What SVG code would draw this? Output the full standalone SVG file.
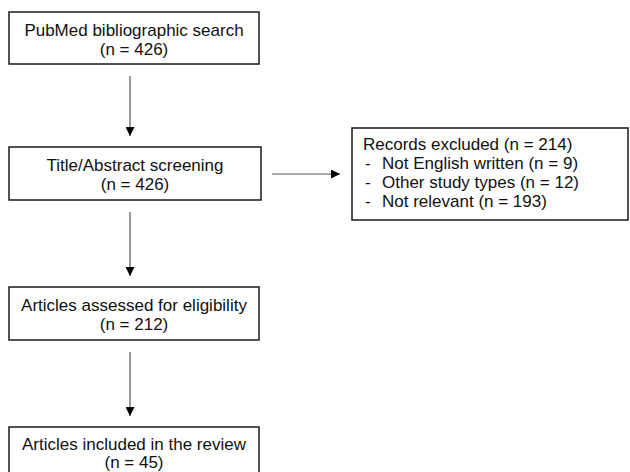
<svg xmlns="http://www.w3.org/2000/svg" width="630" height="472" viewBox="0 0 630 472">
<style>
.box{fill:#fff;stroke:#1a1a1a;stroke-width:1.5}
.t{font-family:"Liberation Sans",Arial,sans-serif;font-size:17px;fill:#111}
.c{text-anchor:middle}
.ln{stroke:#555;stroke-width:1.2;fill:none}
</style>
<defs>
<marker id="ah" viewBox="0 0 10 10" refX="10" refY="5" markerWidth="9" markerHeight="9" markerUnits="userSpaceOnUse" orient="auto">
<path d="M0,0 L10,5 L0,10 Z" fill="#000"/>
</marker>
</defs>
<rect width="630" height="472" fill="#fff"/>
<g id="connectors">
<line class="ln" x1="130" y1="76" x2="130" y2="136" marker-end="url(#ah)"/>
<line class="ln" x1="130" y1="212" x2="130" y2="276" marker-end="url(#ah)"/>
<line class="ln" x1="130" y1="352" x2="130" y2="416" marker-end="url(#ah)"/>
<line class="ln" x1="272" y1="174" x2="340" y2="174" marker-end="url(#ah)"/>
</g>
<g id="search">
<rect class="box" x="9" y="12" width="250" height="52"/>
<text class="t c" x="134" y="36">PubMed bibliographic search</text>
<text class="t c" x="134" y="55">(n = 426)</text>
</g>
<g id="screening">
<rect class="box" x="9" y="147" width="252" height="53"/>
<text class="t c" x="135" y="171">Title/Abstract screening</text>
<text class="t c" x="135" y="190">(n = 426)</text>
</g>
<g id="excluded">
<rect class="box" x="352" y="128" width="276" height="92"/>
<text class="t" x="363" y="150">Records excluded (n = 214)</text>
<text class="t" x="365" y="169">-</text>
<text class="t" x="382" y="169">Not English written (n = 9)</text>
<text class="t" x="365" y="188">-</text>
<text class="t" x="382" y="188">Other study types (n = 12)</text>
<text class="t" x="365" y="207">-</text>
<text class="t" x="382" y="207">Not relevant (n = 193)</text>
</g>
<g id="assessed">
<rect class="box" x="9" y="287" width="250" height="53"/>
<text class="t c" x="134" y="311">Articles assessed for eligibility</text>
<text class="t c" x="134" y="330">(n = 212)</text>
</g>
<g id="included">
<rect class="box" x="9" y="427" width="250" height="60"/>
<text class="t c" x="134" y="450">Articles included in the review</text>
<text class="t c" x="134" y="468">(n = 45)</text>
</g>
</svg>
